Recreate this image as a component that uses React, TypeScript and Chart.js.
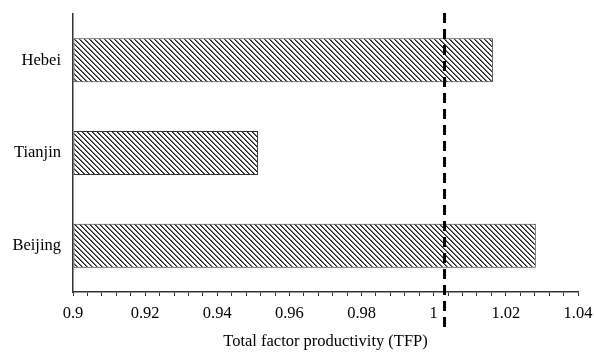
import React, { useEffect, useRef } from "react";
import { Chart, registerables } from "chart.js";

Chart.register(...registerables);

const categories = ["Hebei", "Tianjin", "Beijing"];
const tfpValues = [1.0164, 0.9513, 1.0283];
const referenceValue = 1.003;
const xMin = 0.9;
const xMax = 1.04;
const majorTickValues = [0.9, 0.92, 0.94, 0.96, 0.98, 1.0, 1.02, 1.04];
const majorTickLabels = ["0.9", "0.92", "0.94", "0.96", "0.98", "1", "1.02", "1.04"];
const minorStep = 0.004;
const axisTitle = "Total factor productivity (TFP)";

const FONT = "'Liberation Serif', 'Times New Roman', serif";

function makeHatch(): CanvasPattern | string {
  const c = document.createElement("canvas");
  const p = 5;
  c.width = p;
  c.height = p;
  const ctx = c.getContext("2d");
  if (!ctx) return "#888";
  ctx.fillStyle = "#ffffff";
  ctx.fillRect(0, 0, p, p);
  for (let i = 0; i < p; i++) {
    ctx.fillStyle = "#1a1a1a";
    ctx.fillRect(i, i, 1, 1);
    ctx.fillStyle = "#777";
    ctx.fillRect((i + 1) % p, i, 1, 1);
  }
  const pat = ctx.createPattern(c, "repeat");
  return pat || "#888";
}

const refLinePlugin = {
  id: "refLine",
  afterDatasetsDraw(chart: any) {
    const x = chart.scales.x.getPixelForValue(referenceValue);
    const ctx = chart.ctx;
    ctx.save();
    ctx.strokeStyle = "#000";
    ctx.lineWidth = 3;
    ctx.setLineDash([10, 6]);
    ctx.beginPath();
    ctx.moveTo(x, chart.chartArea.top - 1);
    ctx.lineTo(x, 330);
    ctx.stroke();
    ctx.restore();
  },
};

export default function App() {
  const ref = useRef<HTMLCanvasElement | null>(null);
  useEffect(() => {
    if (!ref.current) return;
    const hatch = makeHatch();
    const chart = new Chart(ref.current, {
      type: "bar",
      data: {
        labels: categories,
        datasets: [
          {
            data: tfpValues,
            base: xMin,
            backgroundColor: hatch as any,
            borderColor: "#333",
            borderWidth: 1,
            borderSkipped: false,
            categoryPercentage: 1,
            barPercentage: 0.475,
          } as any,
        ],
      },
      options: {
        indexAxis: "y",
        animation: false,
        responsive: false,
        maintainAspectRatio: false,
        layout: { padding: { top: 14, right: 16, bottom: 0, left: 0 } },
        plugins: { legend: { display: false }, tooltip: { enabled: false } },
        scales: {
          x: {
            type: "linear",
            min: xMin,
            max: xMax,
            border: { display: true, color: "#333", width: 1.5 },
            grid: {
              drawOnChartArea: false,
              drawTicks: true,
              tickLength: 4,
              color: "#333",
              lineWidth: 1,
            },
            afterBuildTicks(scale: any) {
              const n = Math.round((xMax - xMin) / minorStep);
              const t = [];
              for (let i = 0; i <= n; i++) t.push({ value: xMin + i * minorStep });
              scale.ticks = t;
            },
            afterFit(scale: any) {
              scale.height = 60;
              scale.paddingLeft = 0;
              scale.paddingRight = 0;
            },
            ticks: {
              autoSkip: false,
              maxRotation: 0,
              padding: 8,
              color: "#000",
              font: { family: FONT, size: 16.5 },
              callback(v: any) {
                const idx = majorTickValues.findIndex((m) => Math.abs(m - v) < 1e-6);
                return idx >= 0 ? majorTickLabels[idx] : "";
              },
            },
            title: {
              display: true,
              text: axisTitle,
              color: "#000",
              font: { family: FONT, size: 16.5 },
              padding: { top: 0, bottom: 0 },
            },
          },
          y: {
            border: { display: true, color: "#333", width: 1.5 },
            grid: { display: false, drawTicks: false },
            afterFit(scale: any) {
              scale.width = 73;
              scale.paddingTop = 0;
              scale.paddingBottom = 0;
            },
            ticks: {
              padding: 12,
              color: "#000",
              font: { family: FONT, size: 16.5 },
            },
          },
        },
      },
      plugins: [refLinePlugin],
    });
    return () => chart.destroy();
  }, []);
  return (
    <div style={{ position: "fixed", left: 0, top: 0, width: 594, height: 352, background: "#fff" }}>
      <canvas ref={ref} width={594} height={352} style={{ width: 594, height: 352, display: "block" }} />
    </div>
  );
}
